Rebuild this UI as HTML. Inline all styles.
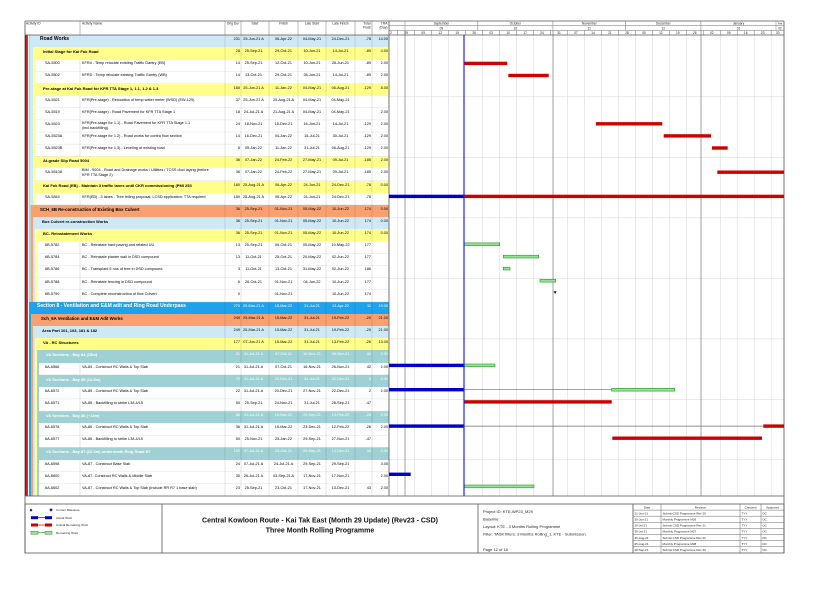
<!DOCTYPE html>
<html><head><meta charset="utf-8">
<style>
*{box-sizing:border-box}
body{margin:0;width:832px;height:589px;position:relative;overflow:hidden;background:#fff;font-family:"Liberation Sans",Arial,sans-serif;color:#000}
.a{position:absolute}
.r{position:absolute;left:25px;width:364px;height:12.13px;font-size:3.8px;line-height:9px;white-space:nowrap}
.r span{position:absolute;top:0}
.bg{position:absolute;top:0;bottom:0;right:0;display:block}
.lb{background:#cfe8f5}.y{background:#ffff8a}.o{background:#f9a070}.b{background:#1fa2ec}.t{background:#9fd1d4}
.id{left:20px}
.nm{left:57px;width:142px;overflow:hidden}
.du{left:200px;width:15px;text-align:right}
.st{left:216px;width:25px;text-align:center}
.fi{left:244px;width:29px;text-align:center}
.ls{left:273px;width:28px;text-align:center}
.lf{left:301px;width:29px;text-align:center}
.tf{left:330px;width:16px;text-align:right}
.tr{left:347px;width:16px;text-align:right}
.gn{font-weight:bold;font-size:4px;width:180px;overflow:hidden}
.w{color:#fff}
.two{line-height:4.6px !important}
</style></head><body>

<!-- left stripes -->
<div class="a" style="left:25px;top:35px;width:1px;height:461px;background:#1c1c6e"></div>
<div class="a" style="left:26px;top:35px;width:1.2px;height:461px;background:#cc2020"></div>
<div class="a" style="left:27.2px;top:35px;width:1.3px;height:461px;background:#3b62c4"></div>
<div class="a" style="left:28.5px;top:35px;width:1.5px;height:267px;background:#b8cfe0"></div>
<div class="a" style="left:28.5px;top:302px;width:0.5px;height:194px;background:#b8cfe0"></div>
<div class="a" style="left:30px;top:47.13px;width:3px;height:157.7px;background:#cfe8f5"></div>
<div class="a" style="left:33px;top:47.13px;width:2px;height:157.7px;background:#ffff8a"></div>
<div class="a" style="left:30px;top:204.82px;width:1px;height:97px;background:#b8cfe0"></div>
<div class="a" style="left:31px;top:216.95px;width:2px;height:84.9px;background:#f9a070"></div>
<div class="a" style="left:33px;top:229.08px;width:2px;height:72.8px;background:#cfe8f5"></div>
<div class="a" style="left:35px;top:241.21px;width:2px;height:60.65px;background:#ffff8a"></div>
<div class="a" style="left:29px;top:313.99px;width:2px;height:182px;background:#1fa2ec"></div>
<div class="a" style="left:31px;top:326.12px;width:2px;height:169.8px;background:#f9a070"></div>
<div class="a" style="left:33px;top:338.25px;width:2px;height:157.7px;background:#cfe8f5"></div>
<div class="a" style="left:35px;top:350.38px;width:2px;height:145.6px;background:#ffff8a"></div>
<div class="a" style="left:37px;top:362.51px;width:2px;height:133.4px;background:#9fd1d4"></div>

<!-- rows -->
<div class="r" style="top:35px"><i class="bg lb" style="left:5px"></i><span class="gn" style="left:15px;font-size:5px">Road Works</span><span class="du">231</span><span class="st">25-Jun-21 A</span><span class="fi">06-Apr-22</span><span class="ls">04-May-21</span><span class="lf">24-Dec-21</span><span class="tf">-78</span><span class="tr">14.00</span></div>
<div class="r" style="top:47.13px"><i class="bg y" style="left:8px"></i><span class="gn" style="left:18px">Initial Stage for Kai Fuk Road</span><span class="du">28</span><span class="st">25-Sep-21</span><span class="fi">29-Oct-21</span><span class="ls">10-Jun-21</span><span class="lf">14-Jul-21</span><span class="tf">-89</span><span class="tr">4.00</span></div>
<div class="r" style="top:59.26px"><span class="id">SA-5500</span><span class="nm">KFRd - Temp relocate existing Traffic Gantry (EB)</span><span class="du">14</span><span class="st">25-Sep-21</span><span class="fi">12-Oct-21</span><span class="ls">10-Jun-21</span><span class="lf">26-Jun-21</span><span class="tf">-89</span><span class="tr">2.00</span></div>
<div class="r" style="top:71.39px"><span class="id">SA-5502</span><span class="nm">KFRD - Temp relocate existing Traffic Gantry (WB)</span><span class="du">14</span><span class="st">13-Oct-21</span><span class="fi">29-Oct-21</span><span class="ls">28-Jun-21</span><span class="lf">14-Jul-21</span><span class="tf">-89</span><span class="tr">2.00</span></div>
<div class="r" style="top:83.52px"><i class="bg y" style="left:8px"></i><span class="gn" style="left:18px">Pre-stage at Kai Fuk Road for KFR TTA Stage 1, 1.1, 1.2 &amp; 1.3</span><span class="du">165</span><span class="st">25-Jun-21 A</span><span class="fi">11-Jan-22</span><span class="ls">04-May-21</span><span class="lf">06-Aug-21</span><span class="tf">-129</span><span class="tr">8.00</span></div>
<div class="r" style="top:95.65px"><span class="id">SA-5521</span><span class="nm">KFR(Pre-stage) - Relocation of temp water meter (WSD) (EW-129)</span><span class="du">37</span><span class="st">25-Jun-21 A</span><span class="fi">25-Aug-21 A</span><span class="ls">04-May-21</span><span class="lf">04-May-21</span></div>
<div class="r" style="top:107.78px"><span class="id">SA-5519</span><span class="nm">KFR(Pre-stage) - Road Pavement for KFR TTA Stage 1</span><span class="du">18</span><span class="st">24-Jul-21 A</span><span class="fi">21-Aug-21 A</span><span class="ls">04-May-21</span><span class="lf">04-May-21</span><span class="tr">2.00</span></div>
<div class="r" style="top:119.91px"><span class="id">SA-5523</span><span class="nm two" style="top:1px">KFR(Pre-stage for 1.1) - Road Pavement for KFR TTA Stage 1.1<br>(incl.backfilling)</span><span class="du">24</span><span class="st">18-Nov-21</span><span class="fi">15-Dec-21</span><span class="ls">16-Jun-21</span><span class="lf">14-Jul-21</span><span class="tf">-129</span><span class="tr">2.00</span></div>
<div class="r" style="top:132.04px"><span class="id">SA-5523A</span><span class="nm">KFR(Pre-stage for 1.2) - Road works for contra flow section</span><span class="du">14</span><span class="st">16-Dec-21</span><span class="fi">04-Jan-22</span><span class="ls">15-Jul-21</span><span class="lf">30-Jul-21</span><span class="tf">-129</span><span class="tr">2.00</span></div>
<div class="r" style="top:144.17px"><span class="id">SA-5523B</span><span class="nm">KFR(Pre-stage for 1.3) - Leveling of existing road</span><span class="du">6</span><span class="st">05-Jan-22</span><span class="fi">11-Jan-22</span><span class="ls">31-Jul-21</span><span class="lf">06-Aug-21</span><span class="tf">-129</span><span class="tr">2.00</span></div>
<div class="r" style="top:156.3px"><i class="bg y" style="left:8px"></i><span class="gn" style="left:18px">At-grade Slip Road 5004</span><span class="du">36</span><span class="st">07-Jan-22</span><span class="fi">24-Feb-22</span><span class="ls">27-May-21</span><span class="lf">09-Jul-21</span><span class="tf">-185</span><span class="tr">2.00</span></div>
<div class="r" style="top:168.43px"><span class="id">SA-5510A</span><span class="nm two">BIM - 5004 - Road and Drainage works / Utilities / TCSS duct laying  (before<br>KFR TTA Stage 2)</span><span class="du">36</span><span class="st">07-Jan-22</span><span class="fi">24-Feb-22</span><span class="ls">27-May-21</span><span class="lf">09-Jul-21</span><span class="tf">-185</span><span class="tr">2.00</span></div>
<div class="r" style="top:180.56px"><i class="bg y" style="left:8px"></i><span class="gn" style="left:18px;width:182px">Kai Fuk Road (EB) - Maintain 3 traffic lanes until CKR commissioning (PMI 253</span><span class="du">180</span><span class="st">25-Aug-21 A</span><span class="fi">06-Apr-22</span><span class="ls">24-Jun-21</span><span class="lf">24-Dec-21</span><span class="tf">-78</span><span class="tr">0.00</span></div>
<div class="r" style="top:192.69px"><span class="id">SA-5844</span><span class="nm">KFR(EB) - 3 lanes - Tree felling proposal; LCSD application; TTA required</span><span class="du">180</span><span class="st">25-Aug-21 A</span><span class="fi">06-Apr-22</span><span class="ls">24-Jun-21</span><span class="lf">24-Dec-21</span><span class="tf">-78</span></div>
<div class="r" style="top:204.82px"><i class="bg o" style="left:6px"></i><span class="gn" style="left:15px;font-size:4.3px">SCH_6B Re-construction of Existing Box Culvert</span><span class="du">36</span><span class="st">25-Sep-21</span><span class="fi">01-Nov-21</span><span class="ls">05-May-22</span><span class="lf">10-Jun-22</span><span class="tf">174</span><span class="tr">0.00</span></div>
<div class="r" style="top:216.95px"><i class="bg lb" style="left:8px"></i><span class="gn" style="left:17px">Box Culvert re-construction Works</span><span class="du">36</span><span class="st">25-Sep-21</span><span class="fi">01-Nov-21</span><span class="ls">05-May-22</span><span class="lf">10-Jun-22</span><span class="tf">174</span><span class="tr">0.00</span></div>
<div class="r" style="top:229.08px"><i class="bg y" style="left:10px"></i><span class="gn" style="left:18px">BC- Reinstatement Works</span><span class="du">36</span><span class="st">25-Sep-21</span><span class="fi">01-Nov-21</span><span class="ls">05-May-22</span><span class="lf">10-Jun-22</span><span class="tf">174</span><span class="tr">0.00</span></div>
<div class="r" style="top:241.21px"><span class="id">6B-5782</span><span class="nm">BC - Reinstate hard paving and related UU</span><span class="du">13</span><span class="st">25-Sep-21</span><span class="fi">09-Oct-21</span><span class="ls">05-May-22</span><span class="lf">19-May-22</span><span class="tf">177</span></div>
<div class="r" style="top:253.34px"><span class="id">6B-5784</span><span class="nm">BC - Reinstate planter wall in DSD compound</span><span class="du">13</span><span class="st">11-Oct-21</span><span class="fi">25-Oct-21</span><span class="ls">20-May-22</span><span class="lf">02-Jun-22</span><span class="tf">177</span></div>
<div class="r" style="top:265.47px"><span class="id">6B-5786</span><span class="nm">BC - Transplant 5 nos of tree in DSD compound</span><span class="du">3</span><span class="st">11-Oct-21</span><span class="fi">13-Oct-21</span><span class="ls">31-May-22</span><span class="lf">02-Jun-22</span><span class="tf">186</span></div>
<div class="r" style="top:277.6px"><span class="id">6B-5788</span><span class="nm">BC - Reinstate fencing in DSD compound</span><span class="du">6</span><span class="st">26-Oct-21</span><span class="fi">01-Nov-21</span><span class="ls">04-Jun-22</span><span class="lf">10-Jun-22</span><span class="tf">177</span></div>
<div class="r" style="top:289.73px"><span class="id">6B-5790</span><span class="nm">BC - Complete reconstruction of Box Culvert</span><span class="du">0</span><span class="fi">01-Nov-21</span><span class="lf">10-Jun-22</span><span class="tf">174</span></div>
<div class="r w" style="top:301.86px"><i class="bg b" style="left:4px"></i><span class="gn" style="left:12px;font-size:5px;width:188px">Section 8 - Ventilation and E&amp;M adit and Ring Road Underpass</span><span class="du">279</span><span class="st">25-Mar-21 A</span><span class="fi">15-Mar-22</span><span class="ls">31-Jul-21</span><span class="lf">13-Apr-22</span><span class="tf">11</span><span class="tr">19.00</span></div>
<div class="r" style="top:313.99px"><i class="bg o" style="left:6px"></i><span class="gn" style="left:16px;font-size:4.3px">Sch_6A Ventilation and E&amp;M Adit Works</span><span class="du">249</span><span class="st">25-Mar-21 A</span><span class="fi">15-Mar-22</span><span class="ls">31-Jul-21</span><span class="lf">19-Feb-22</span><span class="tf">-20</span><span class="tr">21.00</span></div>
<div class="r" style="top:326.12px"><i class="bg lb" style="left:8px"></i><span class="gn" style="left:17px">Area Part 101, 103, 181 &amp; 182</span><span class="du">249</span><span class="st">25-Mar-21 A</span><span class="fi">15-Mar-22</span><span class="ls">31-Jul-21</span><span class="lf">19-Feb-22</span><span class="tf">-20</span><span class="tr">21.00</span></div>
<div class="r" style="top:338.25px"><i class="bg y" style="left:10px"></i><span class="gn" style="left:18px">VA - RC Structures</span><span class="du">177</span><span class="st">07-Jun-21 A</span><span class="fi">15-Mar-22</span><span class="ls">31-Jul-21</span><span class="lf">13-Feb-22</span><span class="tf">-26</span><span class="tr">13.00</span></div>
<div class="r w" style="top:350.38px"><i class="bg t" style="left:12px"></i><span class="gn" style="left:21px">VA Sections - Bay 84 (15m)</span><span class="du">21</span><span class="st">31-Jul-21 A</span><span class="fi">07-Oct-21</span><span class="ls">16-Nov-21</span><span class="lf">26-Nov-21</span><span class="tf">42</span><span class="tr">2.00</span></div>
<div class="r" style="top:362.51px"><span class="id">6A-6566</span><span class="nm">VA-84 - Construct RC Walls &amp; Top Slab</span><span class="du">21</span><span class="st">31-Jul-21 A</span><span class="fi">07-Oct-21</span><span class="ls">16-Nov-21</span><span class="lf">26-Nov-21</span><span class="tf">42</span><span class="tr">2.00</span></div>
<div class="r w" style="top:374.64px"><i class="bg t" style="left:12px"></i><span class="gn" style="left:21px">VA Sections - Bay 85 (14.5m)</span><span class="du">72</span><span class="st">31-Jul-21 A</span><span class="fi">20-Dec-21</span><span class="ls">31-Jul-21</span><span class="lf">22-Dec-21</span><span class="tf">2</span><span class="tr">2.00</span></div>
<div class="r" style="top:386.77px"><span class="id">6A-6572</span><span class="nm">VA-85 - Construct RC Walls &amp; Top Slab</span><span class="du">22</span><span class="st">31-Jul-21 A</span><span class="fi">20-Dec-21</span><span class="ls">27-Nov-21</span><span class="lf">22-Dec-21</span><span class="tf">2</span><span class="tr">2.00</span></div>
<div class="r" style="top:398.9px"><span class="id">6A-6571</span><span class="nm">VA-85 - Backfilling to strike L3/L4/L5</span><span class="du">50</span><span class="st">25-Sep-21</span><span class="fi">24-Nov-21</span><span class="ls">31-Jul-21</span><span class="lf">28-Sep-21</span><span class="tf">-47</span></div>
<div class="r w" style="top:411.03px"><i class="bg t" style="left:12px"></i><span class="gn" style="left:21px">VA Sections - Bay 86 (~14m)</span><span class="du">86</span><span class="st">31-Jul-21 A</span><span class="fi">15-Mar-22</span><span class="ls">29-Sep-21</span><span class="lf">13-Feb-22</span><span class="tf">-26</span><span class="tr">2.00</span></div>
<div class="r" style="top:423.16px"><span class="id">6A-6578</span><span class="nm">VA-86 - Construct RC Walls &amp; Top Slab</span><span class="du">36</span><span class="st">31-Jul-21 A</span><span class="fi">15-Mar-22</span><span class="ls">23-Dec-21</span><span class="lf">12-Feb-22</span><span class="tf">-26</span><span class="tr">2.00</span></div>
<div class="r" style="top:435.29px"><span class="id">6A-6577</span><span class="nm">VA-86 - Backfilling to strike L3/L4/L5</span><span class="du">50</span><span class="st">25-Nov-21</span><span class="fi">25-Jan-22</span><span class="ls">29-Sep-21</span><span class="lf">27-Nov-21</span><span class="tf">-47</span></div>
<div class="r w" style="top:447.42px"><i class="bg t" style="left:12px"></i><span class="gn" style="left:21px">VA Sections - Bay 87 (22.3m) underneath Ring Road R7</span><span class="du">100</span><span class="st">07-Jul-21 A</span><span class="fi">23-Oct-21</span><span class="ls">29-Sep-21</span><span class="lf">13-Dec-21</span><span class="tf">43</span><span class="tr">3.00</span></div>
<div class="r" style="top:459.55px"><span class="id">6A-6598</span><span class="nm">VA-87 - Construct Base Slab</span><span class="du">24</span><span class="st">07-Jul-21 A</span><span class="fi">24-Jul-21 A</span><span class="ls">29-Sep-21</span><span class="lf">29-Sep-21</span><span class="tr">3.00</span></div>
<div class="r" style="top:471.68px"><span class="id">6A-6600</span><span class="nm">VA-87- Construct RC Walls &amp; Middle Slab</span><span class="du">30</span><span class="st">26-Jul-21 A</span><span class="fi">03-Sep-21 A</span><span class="ls">17-Nov-21</span><span class="lf">17-Nov-21</span><span class="tr">2.00</span></div>
<div class="r" style="top:483.81px"><span class="id">6A-6602</span><span class="nm">VA-87 - Construct RC Walls &amp; Top Slab (Include RR R7 1 base slab)</span><span class="du">23</span><span class="st">25-Sep-21</span><span class="fi">23-Oct-21</span><span class="ls">17-Nov-21</span><span class="lf">13-Dec-21</span><span class="tf">43</span><span class="tr">2.00</span></div>

<svg class="a" style="left:0;top:0" width="832" height="589" viewBox="0 0 832 589" font-family="Liberation Sans, Arial, sans-serif">
<!-- row separators -->
<g stroke="#e0e0e0" stroke-width="0.5">
<line x1="35" y1="59.26" x2="389" y2="59.26"/><line x1="35" y1="71.39" x2="389" y2="71.39"/><line x1="35" y1="83.52" x2="389" y2="83.52"/><line x1="35" y1="107.78" x2="389" y2="107.78"/><line x1="35" y1="119.91" x2="389" y2="119.91"/><line x1="35" y1="132.04" x2="389" y2="132.04"/><line x1="35" y1="144.17" x2="389" y2="144.17"/><line x1="35" y1="156.3" x2="389" y2="156.3"/><line x1="35" y1="180.56" x2="389" y2="180.56"/><line x1="35" y1="204.82" x2="389" y2="204.82"/>
<line x1="37" y1="253.34" x2="389" y2="253.34"/><line x1="37" y1="265.47" x2="389" y2="265.47"/><line x1="37" y1="277.6" x2="389" y2="277.6"/><line x1="37" y1="289.73" x2="389" y2="289.73"/><line x1="37" y1="301.86" x2="389" y2="301.86"/>
<line x1="39" y1="374.64" x2="389" y2="374.64"/><line x1="39" y1="398.9" x2="389" y2="398.9"/><line x1="39" y1="411.03" x2="389" y2="411.03"/><line x1="39" y1="435.29" x2="389" y2="435.29"/><line x1="39" y1="447.42" x2="389" y2="447.42"/><line x1="39" y1="471.68" x2="389" y2="471.68"/><line x1="39" y1="483.81" x2="389" y2="483.81"/>
</g>
<!-- column lines body -->
<g stroke="#000" stroke-opacity="0.17" stroke-width="0.6">
<line x1="225" y1="35" x2="225" y2="496"/><line x1="241" y1="35" x2="241" y2="496"/><line x1="269" y1="35" x2="269" y2="496"/><line x1="298" y1="35" x2="298" y2="496"/><line x1="326" y1="35" x2="326" y2="496"/><line x1="355" y1="35" x2="355" y2="496"/><line x1="372" y1="35" x2="372" y2="496"/>
<line x1="80" y1="59.26" x2="80" y2="83.52"/><line x1="80" y1="95.65" x2="80" y2="156.3"/><line x1="80" y1="168.43" x2="80" y2="180.56"/><line x1="80" y1="192.69" x2="80" y2="204.82"/><line x1="80" y1="241.21" x2="80" y2="301.86"/><line x1="80" y1="362.51" x2="80" y2="374.64"/><line x1="80" y1="386.77" x2="80" y2="411.03"/><line x1="80" y1="423.16" x2="80" y2="447.42"/><line x1="80" y1="459.55" x2="80" y2="495.9"/>
</g>
<!-- gantt weekly grid -->
<g stroke="#dcdcdc" stroke-width="0.6">
<line x1="397.7" y1="35" x2="397.7" y2="496"/><line x1="414.7" y1="35" x2="414.7" y2="496"/><line x1="431.7" y1="35" x2="431.7" y2="496"/><line x1="448.7" y1="35" x2="448.7" y2="496"/><line x1="482.6" y1="35" x2="482.6" y2="496"/><line x1="499.6" y1="35" x2="499.6" y2="496"/><line x1="516.6" y1="35" x2="516.6" y2="496"/><line x1="533.5" y1="35" x2="533.5" y2="496"/><line x1="567.5" y1="35" x2="567.5" y2="496"/><line x1="584.5" y1="35" x2="584.5" y2="496"/><line x1="601.4" y1="35" x2="601.4" y2="496"/><line x1="618.4" y1="35" x2="618.4" y2="496"/><line x1="635.4" y1="35" x2="635.4" y2="496"/><line x1="652.4" y1="35" x2="652.4" y2="496"/><line x1="669.3" y1="35" x2="669.3" y2="496"/><line x1="686.3" y1="35" x2="686.3" y2="496"/><line x1="720.3" y1="35" x2="720.3" y2="496"/><line x1="737.2" y1="35" x2="737.2" y2="496"/><line x1="754.2" y1="35" x2="754.2" y2="496"/><line x1="771.2" y1="35" x2="771.2" y2="496"/>
<line x1="389" y1="96.8" x2="784" y2="96.8"/><line x1="389" y1="157.3" x2="784" y2="157.3"/><line x1="389" y1="217.8" x2="784" y2="217.8"/><line x1="389" y1="278.3" x2="784" y2="278.3"/><line x1="389" y1="338.8" x2="784" y2="338.8"/><line x1="389" y1="399.3" x2="784" y2="399.3"/><line x1="389" y1="459.8" x2="784" y2="459.8"/>
</g>
<g stroke="#7a7a7a" stroke-width="0.7">
<line x1="405" y1="30.3" x2="405" y2="496"/><line x1="553" y1="30.3" x2="553" y2="496"/><line x1="701" y1="30.3" x2="701" y2="496"/>
</g>
<!-- header -->
<g stroke="#8a8a8a" stroke-width="0.6">
<line x1="80" y1="21" x2="80" y2="35"/><line x1="225" y1="21" x2="225" y2="35"/><line x1="241" y1="21" x2="241" y2="35"/><line x1="269" y1="21" x2="269" y2="35"/><line x1="298" y1="21" x2="298" y2="35"/><line x1="326" y1="21" x2="326" y2="35"/><line x1="355" y1="21" x2="355" y2="35"/><line x1="372" y1="21" x2="372" y2="35"/>
<line x1="389" y1="25.7" x2="784" y2="25.7"/><line x1="389" y1="30.3" x2="784" y2="30.3"/>
<line x1="405" y1="21" x2="405" y2="30.3"/><line x1="477.8" y1="21" x2="477.8" y2="30.3"/><line x1="552.9" y1="21" x2="552.9" y2="30.3"/><line x1="625.7" y1="21" x2="625.7" y2="30.3"/><line x1="700.9" y1="21" x2="700.9" y2="30.3"/><line x1="776" y1="21" x2="776" y2="30.3"/>
<line x1="397.7" y1="30.3" x2="397.7" y2="35"/><line x1="414.7" y1="30.3" x2="414.7" y2="35"/><line x1="431.7" y1="30.3" x2="431.7" y2="35"/><line x1="448.7" y1="30.3" x2="448.7" y2="35"/><line x1="465.6" y1="30.3" x2="465.6" y2="35"/><line x1="482.6" y1="30.3" x2="482.6" y2="35"/><line x1="499.6" y1="30.3" x2="499.6" y2="35"/><line x1="516.6" y1="30.3" x2="516.6" y2="35"/><line x1="533.5" y1="30.3" x2="533.5" y2="35"/><line x1="550.5" y1="30.3" x2="550.5" y2="35"/><line x1="567.5" y1="30.3" x2="567.5" y2="35"/><line x1="584.5" y1="30.3" x2="584.5" y2="35"/><line x1="601.4" y1="30.3" x2="601.4" y2="35"/><line x1="618.4" y1="30.3" x2="618.4" y2="35"/><line x1="635.4" y1="30.3" x2="635.4" y2="35"/><line x1="652.4" y1="30.3" x2="652.4" y2="35"/><line x1="669.3" y1="30.3" x2="669.3" y2="35"/><line x1="686.3" y1="30.3" x2="686.3" y2="35"/><line x1="703.3" y1="30.3" x2="703.3" y2="35"/><line x1="720.3" y1="30.3" x2="720.3" y2="35"/><line x1="737.2" y1="30.3" x2="737.2" y2="35"/><line x1="754.2" y1="30.3" x2="754.2" y2="35"/><line x1="771.2" y1="30.3" x2="771.2" y2="35"/>
</g>
<g font-size="3.3" fill="#222">
<text x="26" y="24.6">Activity ID</text>
<text x="82" y="24.6">Activity Name</text>
<text x="233" y="24.6" text-anchor="middle">Orig Dur</text>
<text x="255" y="24.6" text-anchor="middle">Start</text>
<text x="283.5" y="24.6" text-anchor="middle">Finish</text>
<text x="312" y="24.6" text-anchor="middle">Late Start</text>
<text x="340.5" y="24.6" text-anchor="middle">Late Finish</text>
<text x="370.5" y="24.6" text-anchor="end">Total</text><text x="370.5" y="28.4" text-anchor="end">Float</text>
<text x="387.5" y="24.6" text-anchor="end">TRA</text><text x="387.5" y="28.4" text-anchor="end">(Day)</text>
</g>
<g font-size="3.2" fill="#222" text-anchor="middle">
<text x="441.4" y="24.7">September</text><text x="515.3" y="24.7">October</text><text x="589.3" y="24.7">November</text><text x="663.3" y="24.7">December</text><text x="738.5" y="24.7">January</text><text x="780" y="24.7" font-size="2.6">Feb</text>
<text x="441.4" y="29.3">09</text><text x="515.3" y="29.3">10</text><text x="589.3" y="29.3">11</text><text x="663.3" y="29.3">12</text><text x="738.5" y="29.3">01</text><text x="780" y="29.3">02</text>
<text x="391" y="34">2</text><text x="406.2" y="34">29</text><text x="423.2" y="34">05</text><text x="440.2" y="34">12</text><text x="457.2" y="34">19</text><text x="474.1" y="34">26</text><text x="491.1" y="34">03</text><text x="508.1" y="34">10</text><text x="525.1" y="34">17</text><text x="542" y="34">24</text><text x="559" y="34">31</text><text x="576" y="34">07</text><text x="593" y="34">14</text><text x="609.9" y="34">21</text><text x="626.9" y="34">28</text><text x="643.9" y="34">05</text><text x="660.9" y="34">12</text><text x="677.8" y="34">19</text><text x="694.8" y="34">26</text><text x="711.8" y="34">02</text><text x="728.8" y="34">09</text><text x="745.7" y="34">16</text><text x="762.7" y="34">23</text><text x="777.7" y="34">30</text>
</g>
<!-- borders -->
<g stroke="#555" stroke-width="0.8" fill="none">
<line x1="25" y1="21" x2="784" y2="21"/>
<line x1="25" y1="35" x2="784" y2="35"/>
<line x1="25" y1="21" x2="25" y2="553"/>
<line x1="784" y1="21" x2="784" y2="553"/>
<line x1="389" y1="21" x2="389" y2="496"/>
<line x1="25" y1="496" x2="784" y2="496"/>
<rect x="25" y="504" width="759" height="49"/>
<line x1="162" y1="504" x2="162" y2="553"/>
<line x1="478" y1="504" x2="478" y2="553"/>
<line x1="633" y1="504" x2="633" y2="553"/>
</g>
<!-- bars -->
<g fill="#d00000">
<rect x="464" y="61.7" width="43.3" height="3.4"/>
<rect x="508.3" y="73.8" width="40.4" height="3.4"/>
<rect x="596" y="122.1" width="66.3" height="3.4"/>
<rect x="663.7" y="134.2" width="47.3" height="3.4"/>
<rect x="712" y="146.3" width="15.7" height="3.4"/>
<rect x="717.3" y="170.5" width="66.7" height="3.4"/>
<rect x="464" y="194.7" width="320" height="3.4"/>
<rect x="464" y="400.2" width="147.7" height="3.4"/>
<rect x="763.3" y="424.4" width="20.7" height="3.4"/>
<rect x="612.3" y="436.5" width="149.7" height="3.4"/>
</g>
<g fill="#0000c8">
<rect x="389" y="194.7" width="75" height="3.4"/>
<rect x="389" y="363.7" width="75" height="3.4"/>
<rect x="389" y="388" width="75" height="3.4"/>
<rect x="389" y="424.4" width="75" height="3.4"/>
<rect x="389" y="472.6" width="21.7" height="3.4"/>
</g>
<g stroke="#6a6a6a" stroke-width="0.7">
<line x1="464" y1="389.7" x2="611.7" y2="389.7"/>
<line x1="464" y1="426.1" x2="763.3" y2="426.1"/>
</g>
<g fill="#8fe68f" stroke="#2f8f2f" stroke-width="0.6">
<rect x="464.3" y="242.9" width="35.4" height="2.8"/>
<rect x="503.3" y="255.2" width="35.4" height="2.8"/>
<rect x="503.3" y="267.2" width="6.7" height="2.8"/>
<rect x="540" y="279.3" width="15.7" height="2.8"/>
<rect x="464.3" y="364" width="30.7" height="2.8"/>
<rect x="611.7" y="388.3" width="63" height="2.8"/>
<rect x="464.3" y="485" width="69.7" height="2.8"/>
</g>
<path d="M553.6 291.3 L556.6 291.3 L555.1 294 Z" fill="#10105a"/>
<line x1="464" y1="35" x2="464" y2="496" stroke="#2424e0" stroke-width="1.2"/>
<!-- footer legend -->
<path d="M31 508.6 L32.5 510.1 L31 511.6 L29.5 510.1 Z" fill="#10106e"/>
<path d="M49.7 508.8 L52.3 508.8 L52.3 510.2 L51 511.6 L49.7 510.2 Z" fill="#10106e"/>
<g font-size="3" fill="#222">
<text x="56" y="511.1">Current Milestone</text>
<text x="56" y="518.8">Actual Work</text>
<text x="56" y="526.1">Critical Remaining Work</text>
<text x="56" y="533.8">Remaining Work</text>
</g>
<rect x="31" y="516.2" width="7" height="3" fill="#0000c8"/><rect x="45" y="516.2" width="7" height="3" fill="#0000c8"/><line x1="38" y1="517.7" x2="45" y2="517.7" stroke="#0000c8" stroke-width="0.7"/>
<rect x="31" y="523.5" width="7" height="3" fill="#d00000"/><rect x="45" y="523.5" width="7" height="3" fill="#d00000"/><line x1="38" y1="525" x2="45" y2="525" stroke="#d00000" stroke-width="0.7"/>
<rect x="31" y="531.2" width="7" height="3" fill="#8fe68f" stroke="#2f8f2f" stroke-width="0.5"/><rect x="45" y="531.2" width="7" height="3" fill="#8fe68f" stroke="#2f8f2f" stroke-width="0.5"/><line x1="38" y1="532.7" x2="45" y2="532.7" stroke="#2f8f2f" stroke-width="0.6"/>
<!-- title -->
<g font-size="7" font-weight="bold" text-anchor="middle" fill="#111">
<text x="320" y="522.5">Central Kowloon Route - Kai Tak East (Month 29 Update) (Rev23 - CSD)</text>
<text x="320" y="532.5">Three Month Rolling Programme</text>
</g>
<g font-size="4" fill="#222">
<text x="483" y="513.2">Project ID: KTE-WP23_M29</text>
<text x="483" y="520.6">Baseline:</text>
<text x="483" y="528">Layout: KTE - 3 Months Rolling Programme</text>
<text x="483" y="535.4">Filter: TASK filters: 3 Months Rolling_1, KTE - Submission.</text>
<text x="483" y="550.8">Page 12 of 16</text>
</g>
<!-- revision table -->
<g stroke="#666" stroke-width="0.5">
<line x1="633" y1="510.1" x2="784" y2="510.1"/><line x1="633" y1="516.2" x2="784" y2="516.2"/><line x1="633" y1="522.3" x2="784" y2="522.3"/><line x1="633" y1="528.4" x2="784" y2="528.4"/><line x1="633" y1="534.5" x2="784" y2="534.5"/><line x1="633" y1="540.6" x2="784" y2="540.6"/><line x1="633" y1="546.7" x2="784" y2="546.7"/>
<line x1="661" y1="504" x2="661" y2="553"/><line x1="740" y1="504" x2="740" y2="553"/><line x1="761" y1="504" x2="761" y2="553"/>
</g>
<g font-size="3" fill="#222">
<text x="647" y="508.3" text-anchor="middle">Date</text><text x="700.5" y="508.3" text-anchor="middle">Revision</text><text x="750.5" y="508.3" text-anchor="middle">Checked</text><text x="772.5" y="508.3" text-anchor="middle">Approved</text>
<text x="634.5" y="514.4">21-Jun-21</text><text x="662.5" y="514.4">Submit CSD Programme Rev 20</text><text x="741.5" y="514.4">TYY</text><text x="762.5" y="514.4">DC</text>
<text x="634.5" y="520.5">30-Jun-21</text><text x="662.5" y="520.5">Monthly Programme M26</text><text x="741.5" y="520.5">TYY</text><text x="762.5" y="520.5">DC</text>
<text x="634.5" y="526.6">20-Jul-21</text><text x="662.5" y="526.6">Submit CSD Programme Rev 21</text><text x="741.5" y="526.6">TYY</text><text x="762.5" y="526.6">DC</text>
<text x="634.5" y="532.7">30-Jul-21</text><text x="662.5" y="532.7">Monthly Programme M27</text><text x="741.5" y="532.7">TYY</text><text x="762.5" y="532.7">DC</text>
<text x="634.5" y="538.8">20-Aug-21</text><text x="662.5" y="538.8">Submit CSD Programme Rev 22</text><text x="741.5" y="538.8">TYY</text><text x="762.5" y="538.8">DC</text>
<text x="634.5" y="544.9">25-Aug-21</text><text x="662.5" y="544.9">Monthly Programme M28</text><text x="741.5" y="544.9">TYY</text><text x="762.5" y="544.9">DC</text>
<text x="634.5" y="551">28-Sep-21</text><text x="662.5" y="551">Submit CSD Programme Rev 23</text><text x="741.5" y="551">TYY</text><text x="762.5" y="551">DC</text>
</g>
</svg>
</body></html>
